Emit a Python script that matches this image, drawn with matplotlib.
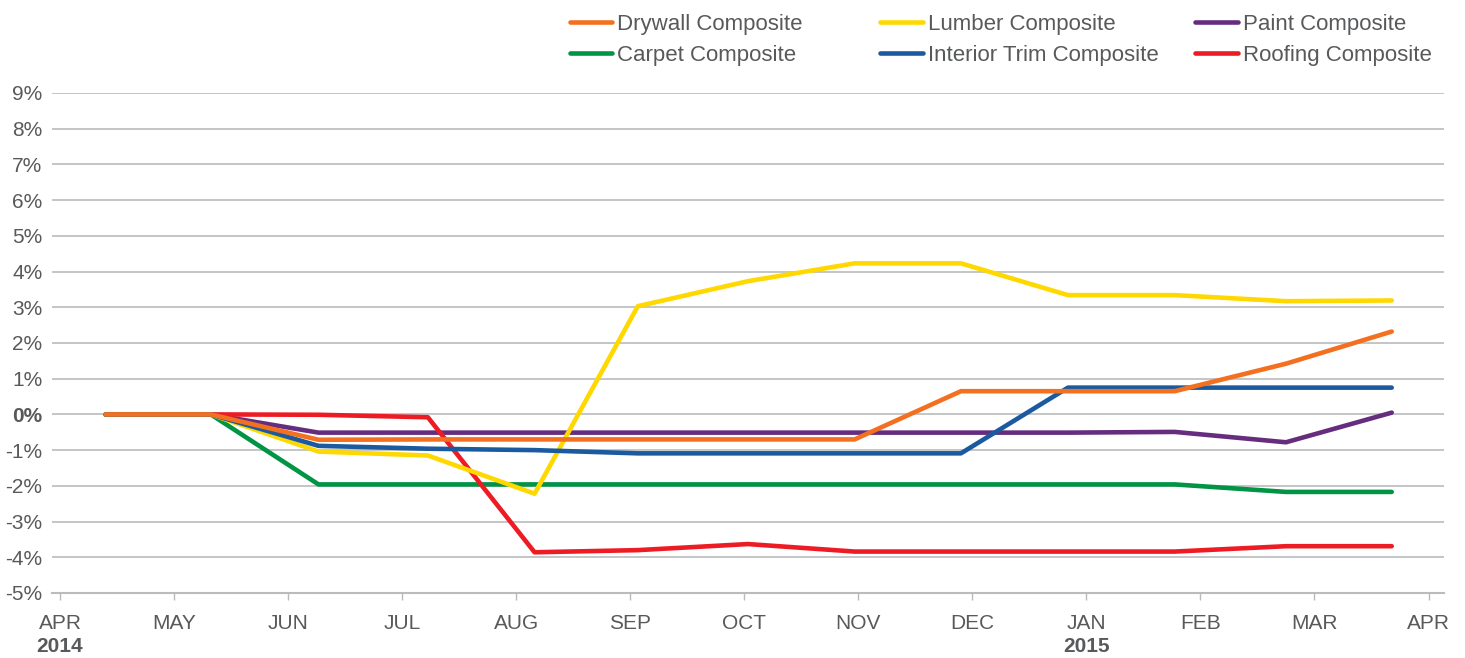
import calendar
from datetime import date

import matplotlib
matplotlib.use("Agg")
import matplotlib.pyplot as plt
import matplotlib.transforms as mtransforms

# observation dates (roughly every 4 weeks)
dates = ["2014-04-13", "2014-05-11", "2014-06-09", "2014-07-08", "2014-08-06",
         "2014-09-03", "2014-10-02", "2014-10-31", "2014-11-28", "2014-12-27",
         "2015-01-25", "2015-02-22", "2015-03-22"]

# % change since first observation
drywall  = [0, 0, -0.71, -0.70, -0.70, -0.70, -0.70, -0.70, 0.65, 0.65, 0.65, 1.42, 2.32]
lumber   = [0, 0, -1.04, -1.15, -2.22, 3.03, 3.73, 4.23, 4.23, 3.34, 3.34, 3.17, 3.19]
paint    = [0, 0, -0.51, -0.51, -0.51, -0.51, -0.51, -0.51, -0.51, -0.51, -0.49, -0.78, 0.05]
carpet   = [0, 0, -1.96, -1.96, -1.96, -1.96, -1.96, -1.96, -1.96, -1.96, -1.96, -2.17, -2.17]
interior = [0, 0, -0.88, -0.96, -1.00, -1.09, -1.09, -1.09, -1.09, 0.75, 0.75, 0.75, 0.75]
roofing  = [0, 0, -0.01, -0.08, -3.86, -3.80, -3.63, -3.84, -3.84, -3.84, -3.84, -3.69, -3.69]

month_labels = ["APR", "MAY", "JUN", "JUL", "AUG", "SEP", "OCT",
                "NOV", "DEC", "JAN", "FEB", "MAR", "APR"]
year_labels = {0: "2014", 9: "2015"}
y_ticks = list(range(-5, 10))


def month_pos(s):
    # months since Apr 2014, with the day as a fraction of its month
    d = date.fromisoformat(s)
    ndays = calendar.monthrange(d.year, d.month)[1]
    return (d.year - 2014) * 12 + (d.month - 4) + (d.day - 1) / ndays


x = [month_pos(s) for s in dates]

plt.rcParams['font.family'] = ['Liberation Sans', 'DejaVu Sans']
text_col = '#58595b'
grid_col = '#b9bbbd'

fig = plt.figure(figsize=(14.65, 6.58), dpi=100)
ax = fig.add_axes([0.0355, 0.0988, 0.9505, 0.7599])

series = [
    ("Paint Composite", paint, '#662d7f'),
    ("Carpet Composite", carpet, '#009444'),
    ("Roofing Composite", roofing, '#ed1c24'),
    ("Lumber Composite", lumber, '#ffd800'),
    ("Interior Trim Composite", interior, '#1c5aa0'),
    ("Drywall Composite", drywall, '#f37021'),
]
handles = {}
for i, (name, vals, col) in enumerate(series):
    ln, = ax.plot(x, vals, color=col, lw=3.3, solid_capstyle='round',
                  solid_joinstyle='round', zorder=3 + i)
    handles[name] = ln

ax.set_ylim(-5, 9)
ax.set_xlim(-0.07, 12.14)
ax.set_yticks(y_ticks)
ax.set_yticklabels([f"{v}%" for v in y_ticks])
ax.set_xticks(range(len(month_labels)))
ax.set_xticklabels(month_labels)

for v in y_ticks:
    if v > -5:
        ax.axhline(v, color=grid_col, lw=1.2, zorder=1)

for s in ['top', 'right', 'left']:
    ax.spines[s].set_visible(False)
ax.spines['bottom'].set_color(grid_col)
ax.spines['bottom'].set_linewidth(1.5)

ax.tick_params(axis='y', length=0, pad=7, labelsize=15, labelcolor=text_col)
ax.tick_params(axis='x', length=5, width=1, color=grid_col, pad=10,
               labelsize=15, labelcolor=text_col)
for lab in ax.get_yticklabels():
    if lab.get_text() == "0%":
        lab.set_fontweight('bold')

trans = mtransforms.blended_transform_factory(ax.transData, ax.transAxes)
for pos, yr in year_labels.items():
    ax.text(pos, -0.108, yr, transform=trans, ha='center', va='center',
            fontsize=15, fontweight='bold', color=text_col)

# legend: three columns, two rows each
legend_cols = [
    (0.389, ["Drywall Composite", "Carpet Composite"]),
    (0.601, ["Lumber Composite", "Interior Trim Composite"]),
    (0.816, ["Paint Composite", "Roofing Composite"]),
]
for xpos, names in legend_cols:
    leg = fig.legend([handles[n] for n in names], names, loc='upper left',
                     bbox_to_anchor=(xpos, 0.979), frameon=False, fontsize=16,
                     handlelength=1.9, handletextpad=0.22, labelspacing=0.45,
                     borderpad=0, borderaxespad=0)
    for t in leg.get_texts():
        t.set_color(text_col)

fig.savefig("out.png", dpi=100)
